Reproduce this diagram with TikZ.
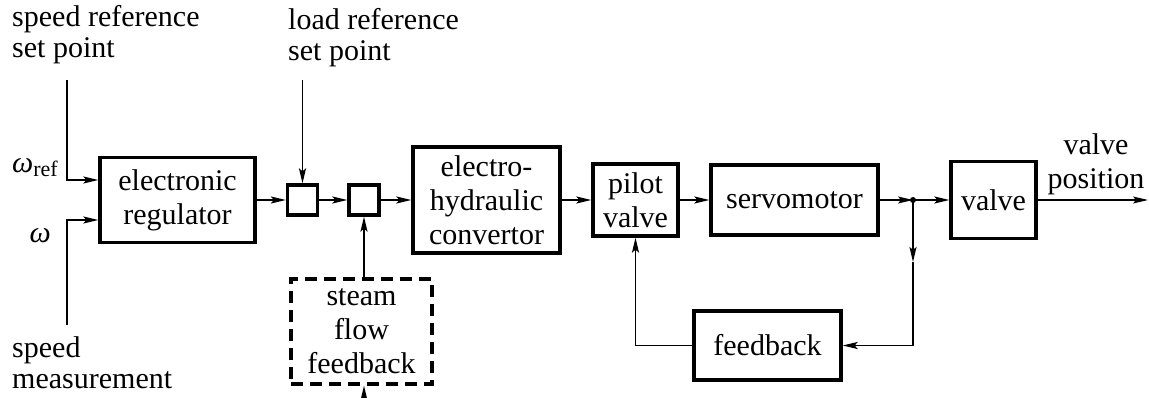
\documentclass[tikz,border=0pt]{standalone}
\usepackage{fontspec}
\setmainfont{Liberation Serif}
\usetikzlibrary{arrows.meta}

\begin{document}
\begin{tikzpicture}[x=1pt,y=-1pt,>={Stealth[length=15pt,width=7pt,inset=3pt]},
	font=\fontsize{30}{34}\selectfont,
	block/.style={draw,line width=3.3pt,align=center,inner sep=0pt},
	steambox/.style={block,dash pattern=on 12pt off 7pt},
	label node/.style={align=left,inner sep=0pt,font=\fontsize{30}{31}\selectfont},
	signal/.style={line width=1.6pt}]
	
	\useasboundingbox (0,0) rectangle (1149,398);
	
	% blocks
	\node[block,minimum width=155pt,minimum height=85pt] (reg) at (177.5,200) {electronic\\regulator};
	\node[block,minimum size=30pt] (sum1) at (302.5,200) {};
	\node[block,minimum size=30pt] (sum2) at (364,200) {};
	\node[block,minimum width=147pt,minimum height=106pt] (conv) at (486.5,200) {electro-\\hydraulic\\convertor};
	\node[block,minimum width=85pt,minimum height=72pt] (pilot) at (635.5,200) {pilot\\valve};
	\node[block,minimum width=167pt,minimum height=70pt] (servo) at (794.5,200) {servomotor};
	\node[block,minimum width=85pt,minimum height=77pt] (valve) at (993.5,200) {valve};
	\node[block,minimum width=147pt,minimum height=69pt] (fback) at (767.5,345.5) {feedback};
	\node[steambox,minimum width=141pt,minimum height=105pt] (steam) at (361.5,331.5) {steam\\flow\\feedback};
	
	% labels
	\node[label node,anchor=north west] (srefl) at (12,5) {speed reference\\set point};
	\node[label node,anchor=north west] (lrefl) at (288,8) {load reference\\set point};
	\node[label node,anchor=north west] (measl) at (12,336) {speed\\measurement};
	\node[align=center,inner sep=0pt,anchor=north] (posl) at (1096,133) {valve\\position};
	\node[inner sep=0pt,anchor=base east] (wrefl) at (58,173) {\itshape ω\upshape\raisebox{-4pt}{\fontsize{22}{22}\selectfont ref}};
	\node[inner sep=0pt,anchor=base east] (wl) at (51,243) {\itshape ω};
	
	% signal points
	\coordinate (wtop) at (67,80);
	\coordinate (wbot) at (67,325);
	\coordinate (ltop) at (302.5,80);
	\coordinate (tap) at (913,200);
	\coordinate (tapdown) at (913,262);
	\coordinate (flowin) at (364,402);
	\coordinate (outend) at (1148,200);
	
	% connections
	\draw[signal,->] (wtop) |- ([yshift=20pt]reg.west);
	\draw[signal,->] (wbot) |- ([yshift=-20pt]reg.west);
	\draw[signal,->] (ltop) -- (sum1.north);
	\draw[signal,->] (reg) -- (sum1);
	\draw[signal,->] (sum1) -- (sum2);
	\draw[signal,->] (sum2) -- (conv);
	\draw[signal,->] (steam.north -| sum2) -- (sum2.south);
	\draw[signal,->] (flowin) -- (flowin |- steam.south);
	\draw[signal,->] (conv) -- (pilot);
	\draw[signal,->] (pilot) -- (servo);
	\draw[signal,->] (servo) -- (tap);
	\draw[signal,->] (tap) -- (valve);
	\draw[signal,->] (valve) -- (outend);
	\draw[signal,->] (tap) -- (tapdown);
	\draw[signal,->] (tapdown) |- (fback.east);
	\draw[signal,->] (fback.west) -| (pilot.south);
	\fill (tap) circle (3pt);
\end{tikzpicture}
\end{document}
